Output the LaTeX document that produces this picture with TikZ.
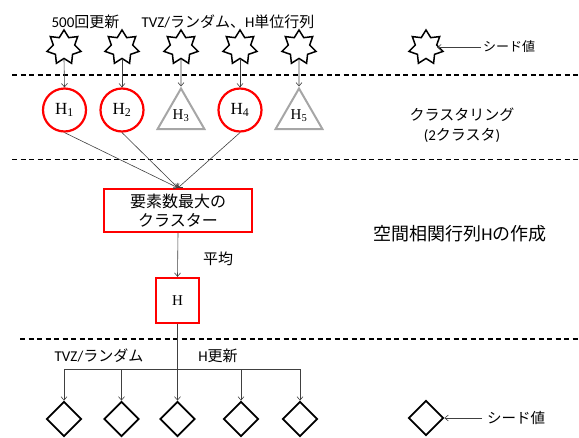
\documentclass[tikz,border=0pt]{standalone}
\usepackage[no-math]{fontspec}
\setmainfont{Carlito}
\newfontfamily\jp{Noto Sans CJK JP}
\newfontfamily\serifH{Liberation Serif}
\usetikzlibrary{shapes.geometric,arrows.meta}
\definecolor{conncol}{HTML}{404040}
\definecolor{tricol}{HTML}{A6A6A6}
\newcommand{\Hsub}[1]{{\serifH H}\textsubscript{\serifH #1}}
\begin{document}
\begin{tikzpicture}[x=1pt,y=-1pt,
  seed/.style={star,star points=7,star point ratio=1.6,draw=black,line width=1.5pt,minimum size=35pt,inner sep=0pt},
  dia/.style={diamond,draw=black,line width=1.8pt,minimum size=35pt,inner sep=0pt},
  hc/.style={circle,draw=red,line width=2.2pt,minimum size=43pt,inner sep=0pt,font=\fontsize{17}{20}\selectfont},
  tri/.style={regular polygon,regular polygon sides=3,draw=tricol,line width=2pt,minimum size=54pt,inner sep=0pt,font=\fontsize{15}{18}\selectfont},
  rbox/.style={draw=red,line width=2.3pt,inner sep=0pt,align=center},
  conn/.style={draw=conncol,line width=0.6pt,-{Straight Barb[length=3.5pt,width=6pt]}},
  plain/.style={draw=conncol,line width=0.6pt},
  sep/.style={draw=black,line width=1.1pt,dash pattern=on 5pt off 3.5pt},
  lab/.style={font=\fontsize{15}{18}\selectfont,inner sep=0pt},
]
\useasboundingbox (0,0) rectangle (579,437);

% separators
\draw[sep] (12,75) -- (579,75);
\draw[sep] (12,159.5) -- (579,159.5);
\draw[sep] (20,339) -- (579,339);

% top labels
\node[lab] (t1) at (85.5,22) {500{\jp 回更新}};
\node[lab] (t2) at (228,22) {TVZ/{\jp ランダム、}H{\jp 単位行列}};

% seeds
\node[seed] (s1) at (64,47.5) {};
\node[seed] (s2) at (122,47.5) {};
\node[seed] (s3) at (181,47.5) {};
\node[seed] (s4) at (240,47.5) {};
\node[seed] (s5) at (299,47.5) {};
\node[seed] (ls) at (426,47.5) {};
\node[lab,font=\fontsize{13}{16}\selectfont\jp] (lt1) at (509,47) {シード値};
\coordinate (la1) at (481,47.5);
\draw[conn,shorten >=-3pt] (la1) -- (ls.east);

% clustering
\node[hc] (h1) at (64.5,110) {\Hsub{1}};
\node[hc] (h2) at (122,110) {\Hsub{2}};
\node[tri] (h3) at (181,115.5) {\Hsub{3}};
\node[hc] (h4) at (240,110) {\Hsub{4}};
\node[tri] (h5) at (299,115.5) {\Hsub{5}};
\foreach \i in {1,...,5} {\draw[conn] (s\i.south) -- (h\i.north);}

\node[lab,align=center,font=\fontsize{15}{20}\selectfont] (cl) at (462,125) {{\jp クラスタリング}\\(2{\jp クラスタ})};

% largest cluster
\node[rbox,minimum width=148pt,minimum height=43pt,font=\fontsize{16}{19}\selectfont\jp] (big) at (178,210.5) {要素数最大の\\クラスター};
\draw[conn] (h1.south) -- (big.north);
\draw[conn] (h2.south) -- (big.north);
\draw[conn] (h4.south) -- (big.north);

\node[lab,font=\fontsize{18}{21}\selectfont] (title) at (460,234) {{\jp 空間相関行列}H{\jp の作成}};

\node[rbox,minimum width=43pt,minimum height=45pt,font=\fontsize{15}{18}\selectfont\serifH] (hb) at (177.5,300.5) {H};
\draw[conn] (big.south) -- (hb.north);
\node[lab,font=\fontsize{15}{18}\selectfont\jp] (avg) at (218,259) {平均};

% bottom
\node[dia] (d1) at (64,419) {};
\node[dia] (d2) at (121.5,419) {};
\node[dia] (d3) at (177.5,419) {};
\node[dia] (d4) at (241,419) {};
\node[dia] (d5) at (300,419) {};
\node[dia] (ld) at (426,418) {};

\foreach \i in {1,2,4,5} {\path (d\i) ++(0,-50) coordinate (b\i);}
\draw[plain] (b1) -- (b5);
\foreach \i in {1,2,4,5} {\draw[conn] (b\i) -- (d\i.north);}
\draw[conn] (hb.south) -- (d3.north);

\node[lab] (l1) at (99,356) {TVZ/{\jp ランダム}};
\node[lab] (l2) at (218,356) {H{\jp 更新}};

\coordinate (la2) at (482,418);
\draw[conn] (la2) -- (ld.east);
\node[lab,font=\fontsize{14.5}{17}\selectfont\jp] (lt2) at (516,418) {シード値};
\end{tikzpicture}
\end{document}
